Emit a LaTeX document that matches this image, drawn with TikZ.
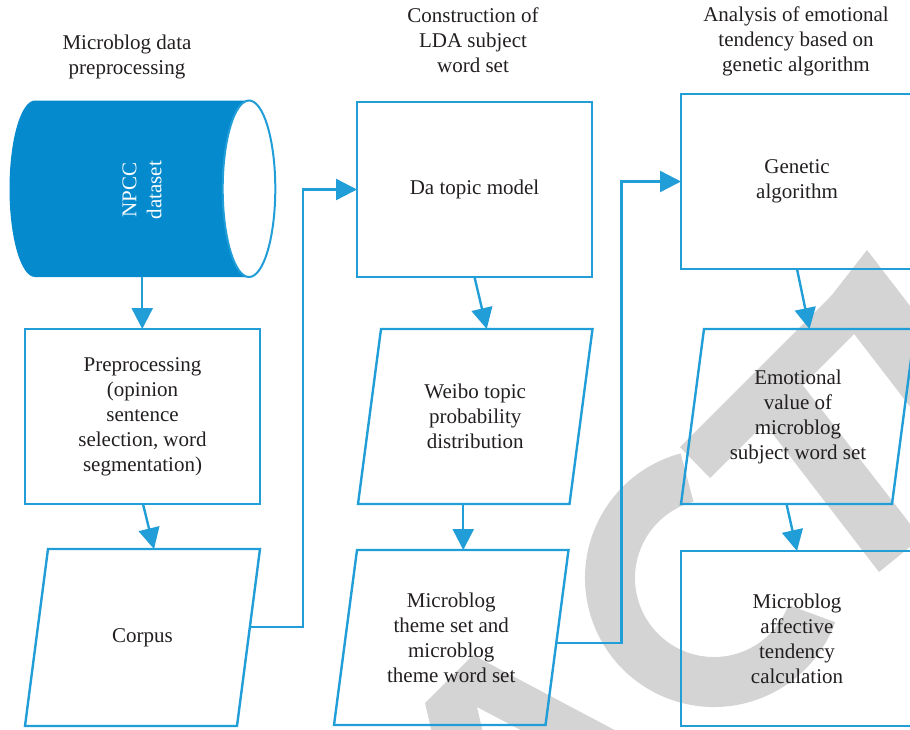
\documentclass[tikz,border=0pt]{standalone}
\usepackage{fontspec}
\setmainfont{Liberation Serif}
\usetikzlibrary{arrows.meta,calc}
\definecolor{lineblue}{RGB}{33,157,215}
\definecolor{cylblue}{RGB}{4,138,205}
\definecolor{wm}{RGB}{212,212,212}
\definecolor{txt}{RGB}{35,31,32}
\newcommand\paraframe[2]{\draw[lineblue,line width=2.4pt] ($(#1.north west)+(#2,0)$) -- ($(#1.north east)+(#2,0)$) -- ($(#1.south east)+(-#2,0)$) -- ($(#1.south west)+(-#2,0)$) -- cycle;}
\begin{document}
\begin{tikzpicture}[x=1pt,y=-1pt,
  every node/.style={inner sep=0pt,outer sep=0pt,text=txt,font=\fontsize{21}{25}\selectfont,align=center},
  boxline/.style={draw=lineblue,line width=2.4pt,minimum height=175pt},
  paranode/.style={minimum width=211.5pt,minimum height=175pt},
  arr/.style={draw=lineblue,line width=2.4pt,-{Triangle[length=21pt,width=21pt]}},
  wmark/.style={fill=wm}]
\useasboundingbox (0,0) rectangle (910,729);
\clip (0,0) rectangle (910,729);
% watermark
\fill[wmark] (432.5,735) -- (425,703) -- (473,655) -- (624,735) -- (530,735) -- (477,707) -- (483.5,735) -- cycle;
\fill[wmark] (714,578) ++(-105:129) arc[start angle=-105,end angle=-340,radius=129] -- ($(714,578)+(-340:79)$) arc[start angle=-340,end angle=-105,radius=79] -- cycle;
\fill[wmark] (680,447) -- (710,478) -- (862,326) -- (832,295) -- cycle;
\fill[wmark] (749,403) -- (791,370) -- (921,538) -- (879,572) -- cycle;
\fill[wmark] (828,300) -- (867,250) -- (990,410) -- (951,460) -- cycle;
% cylinder
\node[minimum width=265.5pt,minimum height=176.5pt] (cyl) at (142.25,188.75) {};
\fill[cylblue] (35,100.5) -- (249,100.5) -- (249,277) -- (35,277) arc[start angle=90,end angle=270,x radius=25.5,y radius=88.25] -- cycle;
\draw[lineblue,line width=2pt,fill=white] (249,188.75) ellipse[x radius=26.3,y radius=88.25];
\node[rotate=90,text=white] (npcc) at (142,190) {NPCC\\dataset};
% headers
\node (h1) at (127,57) {Microblog data\\preprocessing};
\node (h2) at (473,40) {Construction of\\LDA subject\\word set};
\node (h3) at (796,41) {Analysis of emotional\\tendency based on\\genetic algorithm};
% boxes
\node[boxline,minimum width=235pt] (prep) at (142.5,416.5) {Preprocessing\\(opinion\\sentence\\selection, word\\segmentation)};
\node[paranode,minimum width=212pt,minimum height=177pt] (corpus) at (142.5,637.5) {Corpus};
\node[boxline,minimum width=235pt] (da) at (474.5,189.5) {Da topic model};
\node[paranode] (weibo) at (475.25,416.5) {Weibo topic\\probability\\distribution};
\node[paranode] (theme) at (451.25,637.5) {Microblog\\theme set and\\microblog\\theme word set};
\node[boxline,minimum width=232pt] (gen) at (797,181.5) {Genetic\\algorithm};
\node[paranode,minimum width=211pt] (emo) at (798,416.5) {Emotional\\value of\\microblog\\subject word set};
\node[boxline,minimum width=232pt] (aff) at (797,638.5) {Microblog\\affective\\tendency\\calculation};
\paraframe{corpus}{11.5}
\paraframe{weibo}{11.5}
\paraframe{theme}{11.5}
\paraframe{emo}{11.5}
% connectors
\draw[arr] (cyl.south) -- (cyl.south |- prep.north);
\draw[arr] ($(prep.south)+(0.5,0)$) -- ($(corpus.north)+(11.5,0)$);
\draw[arr] ($(corpus.east)+(1.4,-10.5)$) -- ++(53,0) |- (da.west);
\draw[arr] (da.south) -- ($(weibo.north)+(11.5,0)$);
\draw[arr] ($(weibo.south)+(-12,0)$) coordinate (w1) -- (w1 |- theme.north);
\draw[arr] ($(theme.east)+(-0.7,5.5)$) -- ++(65,0) |- (gen.west);
\draw[arr] (gen.south) -- ($(emo.north)+(11.5,0)$);
\draw[arr] ($(emo.south)+(-11.5,0)$) -- (aff.north);
\end{tikzpicture}
\end{document}
